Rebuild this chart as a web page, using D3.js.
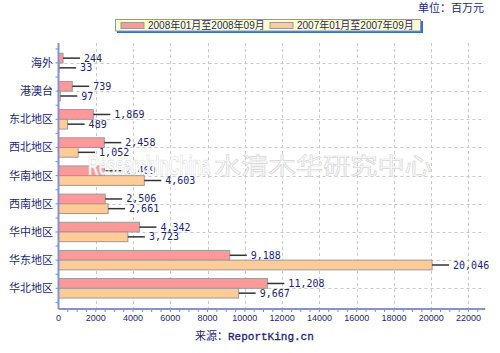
<!DOCTYPE html>
<html><head><meta charset="utf-8">
<script src="https://cdn.jsdelivr.net/npm/d3@7"></script>
<style>body{margin:0;background:#fff}svg{display:block}</style>
</head><body>
<script>
const categories = ["海外","港澳台","东北地区","西北地区","华南地区","西南地区","华中地区","华东地区","华北地区"];
const series2008 = [244,739,1869,2458,2469,2506,4342,9188,11208];
const series2007 = [33,97,489,1052,4603,2661,3723,20046,9667];
const seriesNames = ["2008年01月至2008年09月","2007年01月至2007年09月"];
const seriesColors = ["#FF9999","#FFCC99"];
const xTicks = [0,2000,4000,6000,8000,10000,12000,14000,16000,18000,20000,22000];
const xMax = 22900;

(function(){
const W=500,H=353;
const svg=d3.select("body").append("svg").attr("width",W).attr("height",H);
const cjk="'Noto Sans CJK SC','Noto Sans',sans-serif";
const navy="#1c1f74";

const x=d3.scaleLinear().domain([0,xMax]).range([58.5,58.5+xMax*0.018636]);
const y=d3.scaleBand().domain(categories).range([48.9,302.4]).padding(0);
const inner=d3.scaleBand().domain([0,1]).range([0,y.bandwidth()]).paddingInner(0).paddingOuter(0.45);
const plotTop=43, plotBottom=309;

// grid
const g=svg.append("g");
g.selectAll(".vg").data(xTicks.filter(d=>d>0)).join("line")
 .attr("x1",d=>Math.round(x(d))+0.5).attr("x2",d=>Math.round(x(d))+0.5)
 .attr("y1",plotTop).attr("y2",plotBottom).attr("stroke","#c8c8c8").attr("stroke-dasharray","3,3");
g.selectAll(".hg").data(categories).join("line")
 .attr("x1",x(0)).attr("x2",x(xMax))
 .attr("y1",d=>Math.round(y(d)+y.bandwidth()/2)+0.5).attr("y2",d=>Math.round(y(d)+y.bandwidth()/2)+0.5)
 .attr("stroke","#c8c8c8").attr("stroke-dasharray","3,3");

// bars
const data=categories.map((c,i)=>({c,vals:[series2008[i],series2007[i]]}));
const grp=svg.append("g").selectAll("g").data(data).join("g").attr("transform",d=>`translate(0,${y(d.c)})`);
const items=grp.selectAll("g").data(d=>d.vals.map((v,k)=>({v,k}))).join("g");
items.append("rect").attr("x",x(0)).attr("y",d=>inner(d.k)).attr("width",d=>x(d.v)-x(0))
 .attr("height",inner.bandwidth()).attr("fill",d=>seriesColors[d.k]).attr("stroke","#9a9a9a").attr("stroke-width",1);
items.append("line").attr("x1",d=>x(d.v)).attr("x2",d=>x(d.v)+17)
 .attr("y1",d=>inner(d.k)+inner.bandwidth()/2).attr("y2",d=>inner(d.k)+inner.bandwidth()/2)
 .attr("stroke","#333").attr("stroke-width",1.5);
items.append("text").attr("x",d=>x(d.v)+21).attr("y",d=>inner(d.k)+inner.bandwidth()/2)
 .attr("dy","0.35em").attr("fill",navy).attr("font-family","'DejaVu Sans Mono',monospace").attr("font-size",10)
 .text(d=>d3.format(",")(d.v));

// watermark
const wm=svg.append("g").attr("fill","#fff").attr("stroke","#d4d4d4").attr("stroke-width",0.7).attr("opacity",0.92);
wm.append("text").attr("x",88).attr("y",175).attr("font-family","'Liberation Sans',sans-serif").attr("font-weight","bold")
 .attr("font-size",28).attr("textLength",122).attr("lengthAdjust","spacingAndGlyphs").text("ResearchInChina");
wm.append("text").attr("x",214).attr("y",174).attr("font-family",cjk)
 .attr("font-size",23).attr("textLength",218).attr("lengthAdjust","spacingAndGlyphs").text("水清木华研究中心");

// axes
const axc="#8c8fd0";
svg.append("line").attr("x1",x(0)).attr("x2",x(0)).attr("y1",plotTop).attr("y2",plotBottom).attr("stroke",axc).attr("stroke-width",2);
svg.append("line").attr("x1",x(0)).attr("x2",x(xMax)).attr("y1",plotBottom).attr("y2",plotBottom).attr("stroke",axc).attr("stroke-width",2);
const minor=d3.range(500,xMax,500);
svg.selectAll(".mt").data(minor).join("line").attr("x1",d=>x(d)).attr("x2",d=>x(d)).attr("y1",plotBottom+1).attr("y2",plotBottom+3)
 .attr("stroke","#4aa0e0").attr("stroke-width",1);
const yt=d3.range(0,categories.length*2+1).map(i=>y.range()[0]+i*y.step()/2);
svg.selectAll(".yt").data(yt).join("line").attr("x1",x(0)-3).attr("x2",x(0)).attr("y1",d=>d).attr("y2",d=>d)
 .attr("stroke","#4aa0e0").attr("stroke-width",1);

svg.selectAll(".xl").data(xTicks).join("text").attr("x",d=>x(d)).attr("y",318).attr("dy","0.35em")
 .attr("text-anchor","middle").attr("fill",navy).attr("font-family","'Liberation Sans',sans-serif").attr("font-size",9)
 .text(d=>d);
svg.selectAll(".yl").data(categories).join("text").attr("x",53).attr("y",d=>y(d)+y.bandwidth()/2).attr("dy","0.35em")
 .attr("text-anchor","end").attr("fill",navy).attr("font-family",cjk).attr("font-size",11).text(d=>d);

// legend
const lg=svg.append("g");
lg.append("rect").attr("x",117).attr("y",21).attr("width",306).attr("height",12).attr("fill","#3a6fc0");
lg.append("rect").attr("x",115.5).attr("y",19.5).attr("width",305).attr("height",11.5).attr("fill","#FFFFCC").attr("stroke","#7a9ad0");
const lx=[121,270];
seriesNames.forEach((n,k)=>{
  lg.append("rect").attr("x",lx[k]).attr("y",22.5).attr("width",23).attr("height",6).attr("fill",seriesColors[k]).attr("stroke","#999");
  lg.append("text").attr("x",lx[k]+27).attr("y",25.5).attr("dy","0.35em").attr("fill",navy)
   .attr("font-family","'Liberation Sans',"+cjk).attr("font-size",10).text(n);
});

svg.append("text").attr("x",484).attr("y",8).attr("dy","0.35em").attr("text-anchor","end").attr("fill",navy)
 .attr("font-family",cjk).attr("font-size",11).text("单位：百万元");
const src=svg.append("text").attr("x",195).attr("y",334).attr("dy","0.35em").attr("fill",navy);
src.append("tspan").attr("font-family",cjk).attr("font-size",11).text("来源：");
src.append("tspan").attr("font-family","'Liberation Mono',monospace").attr("font-size",11).attr("stroke",navy).attr("stroke-width",0.3).text("ReportKing.cn");
})();
</script>
</body></html>
